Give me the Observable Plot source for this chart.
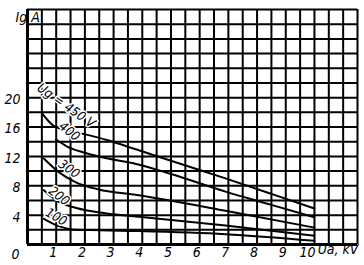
<!DOCTYPE html>
<html><head><meta charset="utf-8">
<script src="https://cdn.jsdelivr.net/npm/d3@7"></script>
<script src="https://cdn.jsdelivr.net/npm/@observablehq/plot@0.6"></script>
<style>body{margin:0;background:#fff}</style>
</head><body><div id="chart"></div>
<script>
const FONT = "'Liberation Sans Narrow','DejaVu Sans Condensed','Roboto Condensed',sans-serif";

// tick labels
const xTicks = [1, 2, 3, 4, 5, 6, 7, 8, 9, 10];
const yTicks = [4, 8, 12, 16, 20];
const xGrid = d3.range(0, 11.51, 0.5);
const yGrid = d3.range(0, 32.1, 2);

// series (Ua in kV, Ig in A)
const ua450 = [0.5, 0.9, 1.2, 1.9, 2.8, 3.75, 5.0, 6.9, 8.5, 10];
const ig450 = [17.9, 16.2, 15.7, 15.1, 14.2, 13.0, 11.4, 9.0, 6.9, 4.9];
const ua400 = [1.0, 1.4, 2.0, 2.8, 3.75, 5.0, 6.9, 8.5, 10];
const ig400 = [14.3, 13.3, 12.5, 11.7, 11.0, 9.6, 7.2, 5.4, 3.7];
const ua300 = [0.57, 1.09, 1.67, 2.48, 3.7, 6.9, 10];
const ig300 = [11.7, 9.85, 8.5, 7.5, 6.8, 4.6, 2.3];
const ua200 = [0.57, 1.09, 1.67, 2.83, 3.7, 6.9, 10];
const ig200 = [7.4, 5.8, 5.0, 4.2, 3.85, 2.6, 1.2];
const ua100 = [0.57, 1.09, 1.56, 2.5, 3.6, 6.9, 10];
const ig100 = [3.5, 2.5, 2.05, 1.95, 1.85, 1.4, 0.5];

const seriesNames = ["450", "400", "300", "200", "100"];
const seriesUa = [ua450, ua400, ua300, ua200, ua100];
const seriesIg = [ig450, ig400, ig300, ig200, ig100];

// curve labels
const labelText = ["Ug = 450 V", "400", "300", "200", "100"];
const labelUa = [1.35, 1.46, 1.45, 1.1, 1.0];
const labelIg = [18.9, 15.4, 10.3, 6.6, 3.75];
const labelAngle = [35, 38, 35, 38, 30];

const rows = seriesNames.flatMap((s, i) => seriesUa[i].map((u, j) => ({s, ua: u, ig: seriesIg[i][j]})));
const labels = labelText.map((t, i) => ({t, ua: labelUa[i], ig: labelIg[i], a: labelAngle[i]}));

const txt = {fontFamily: FONT, fontStyle: "italic", fontSize: 14, fill: "black"};

const chart = Plot.plot({
  width: 364, height: 265,
  marginLeft: 27, marginRight: 7, marginTop: 9, marginBottom: 21,
  style: {fontFamily: FONT, fontSize: "14px", fontStyle: "italic", background: "white", color: "black"},
  x: {domain: [0, 11.5], label: null},
  y: {domain: [0, 32], label: null},
  marks: [
    Plot.ruleX(xGrid, {stroke: "black", strokeWidth: 2}),
    Plot.ruleY(yGrid, {stroke: "black", strokeWidth: 2}),
    Plot.ruleX([0], {stroke: "black", strokeWidth: 3}),
    Plot.ruleY([0], {stroke: "black", strokeWidth: 3}),
    Plot.line(rows, {x: "ua", y: "ig", z: "s", stroke: "black", strokeWidth: 2, curve: "monotone-x"}),
    Plot.text(labels, {x: "ua", y: "ig", text: "t", rotate: "a", ...txt, fontSize: 13, stroke: "white", strokeWidth: 3, paintOrder: "stroke"}),
    Plot.axisX(xTicks, {label: null, tickSize: 0, tickPadding: 3, textAnchor: "end", dx: 1, ...txt}),
    Plot.axisY(yTicks, {label: null, tickSize: 0, tickPadding: 7, dy: 2, ...txt}),
    Plot.text(["0"], {x: 0, y: 0, text: d => d, dx: -12, dy: 10, ...txt}),
    Plot.text(["Ig A"], {frameAnchor: "top-left", text: d => d, dx: -12, dy: 3, ...txt}),
    Plot.text(["Ua, kV"], {frameAnchor: "bottom-right", text: d => d, textAnchor: "end", dx: 1, dy: 9, ...txt})
  ]
});
document.getElementById("chart").appendChild(chart);
</script>
</body></html>
